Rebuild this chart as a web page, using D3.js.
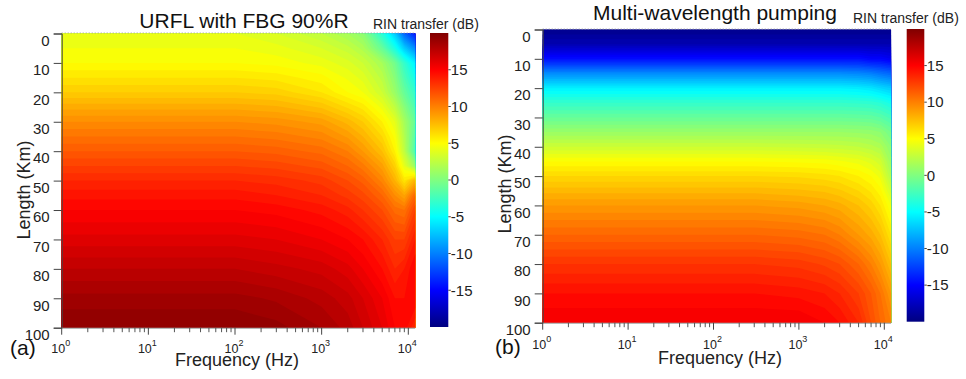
<!DOCTYPE html>
<html>
<head>
<meta charset="utf-8">
<script src="https://cdn.jsdelivr.net/npm/d3@7"></script>
<style>
  html, body { margin: 0; padding: 0; background: #fff; }
  svg { display: block; font-family: "Liberation Sans", Arial, Helvetica, sans-serif; }
</style>
</head>
<body>
<svg id="chart" width="966" height="379"></svg>
<script>
// sample grid: columns = frequency (Hz), rows = fibre length (km)
const freqsHz = [1, 100, 300, 1000, 2000, 3000, 5000, 7000, 9000, 12000];
const lengthsKm = [0, 5, 10, 15, 20, 25, 30, 35, 40, 45, 50, 55, 60, 70, 80, 90, 100];

// (a) URFL with FBG 90%R, RIN transfer in dB
const rinA = [
  [4.0, 4.0, 3.5, 2.5, 1.5, 0.5, -3.5, -7, -11, -14],
  [4.5, 4.5, 4.2, 3.5, 2.7, 1.8, -1, -4, -7, -9.5],
  [5.0, 5.0, 4.8, 4.3, 3.7, 3.0, 1.5, -0.5, -3, -5.5],
  [6.0, 6.0, 5.8, 5.2, 4.4, 3.8, 2.3, 0.3, -2, -4.2],
  [7.0, 7.0, 6.8, 6.0, 5.0, 4.5, 3.0, 1.0, -1, -3],
  [8.3, 8.3, 8.1, 7.4, 6.4, 5.8, 4.3, 2.5, 0.3, -2],
  [9.5, 9.5, 9.3, 8.8, 7.8, 7.0, 5.5, 4.0, 1.5, -1],
  [10.5, 10.5, 10.3, 9.8, 8.9, 8.0, 6.5, 4.8, 2.0, -1.5],
  [11.5, 11.5, 11.3, 10.8, 10.0, 9.0, 7.5, 5.5, 2.5, -2],
  [12.5, 12.5, 12.3, 11.8, 11.0, 10.2, 8.7, 6.8, 4.0, 1],
  [13.5, 13.5, 13.3, 12.8, 12.0, 11.3, 9.8, 8.0, 6.0, 8.0],
  [14.3, 14.3, 14.0, 13.5, 12.8, 12.2, 11.0, 9.5, 8.5, 11],
  [15.0, 15.0, 14.8, 14.3, 13.7, 13.0, 12.0, 10.8, 10.5, 12.5],
  [16.2, 16.2, 16.0, 15.5, 15.0, 14.5, 13.5, 12.5, 12.5, 14],
  [17.5, 17.5, 17.2, 16.8, 16.2, 15.5, 14.5, 13.5, 14.0, 15],
  [18.7, 18.7, 18.4, 17.8, 17.2, 16.5, 15.5, 14.5, 14.5, 15],
  [19.5, 19.5, 19.2, 18.5, 17.8, 17.0, 16.0, 15.0, 14.8, 13.5],
];

// (b) Multi-wavelength pumping
const rinB = [
  [-19.5, -19.5, -19.5, -19.5, -19.5, -19.5, -19.5, -19.5, -19.5, -19.5],
  [-18, -18, -18, -18, -18, -18, -18, -18, -18, -18],
  [-14.5, -14.5, -14.5, -14.5, -14.5, -14.5, -14.5, -15, -15, -15.5],
  [-9.5, -9.5, -9.5, -9.5, -9.5, -9.5, -9.7, -10, -10.5, -11],
  [-5.5, -5.5, -5.5, -5.5, -5.5, -5.5, -5.7, -6, -6.5, -7],
  [-3, -3, -3, -3, -3, -3, -3.1, -3.2, -3.5, -4.2],
  [-1, -1, -1, -1, -1, -1, -1.1, -1.2, -1.5, -2.2],
  [1, 1, 1, 1, 1, 1, 0.9, 0.8, 0.5, -0.5],
  [3, 3, 3, 2.9, 2.8, 2.7, 2.5, 2.2, 1.8, 0.5],
  [5, 5, 5, 4.9, 4.8, 4.6, 4.3, 3.8, 3.2, 1.2],
  [6.5, 6.5, 6.5, 6.4, 6.2, 6.0, 5.5, 5.0, 4.3, 2],
  [7.8, 7.8, 7.8, 7.6, 7.4, 7.1, 6.5, 5.9, 5.2, 3.3],
  [9, 9, 9, 8.8, 8.5, 8.2, 7.5, 6.8, 6.0, 4.5],
  [11, 11, 11, 10.8, 10.5, 10, 9, 8.3, 7.5, 6],
  [13, 13, 13, 12.8, 12.4, 12, 11, 10, 9, 7.5],
  [14.5, 14.5, 14.5, 14.3, 14, 13.5, 12.5, 11.5, 10.5, 9],
  [15.5, 15.5, 15.5, 15.5, 15, 14.5, 13.5, 12, 11, 10],
];

const lengthTicks = [0, 10, 20, 30, 40, 50, 60, 70, 80, 90, 100];
const freqTickExps = [0, 1, 2, 3, 4];
const cbarTicks = [-15, -10, -5, 0, 5, 10, 15];
const cbarRange = [-20, 20];

const panels = [
  {
    values: rinA, title: 'URFL with FBG 90%R', tag: '(a)',
    x0: 61.7, x4: 408.3, top: 33.5, bottom: 327.7,
    cbar: { x: 430, w: 18.3, top: 33, bottom: 327 },
    titlePos: [244, 28], cbarLabelPos: [373, 29], yLabelPos: [30, 190],
    xLabelPos: [237, 366], tagPos: [10, 355], xTickBase: 353,
  },
  {
    values: rinB, title: 'Multi-wavelength pumping', tag: '(b)',
    x0: 542.7, x4: 884.3, top: 29.5, bottom: 322.7,
    cbar: { x: 906.7, w: 17.6, top: 29, bottom: 321.7 },
    titlePos: [715, 20], cbarLabelPos: [853, 23], yLabelPos: [511, 184],
    xLabelPos: [720, 364], tagPos: [495, 354], xTickBase: 349,
  },
];

// MATLAB jet colormap
function jet(t) {
  t = Math.max(0, Math.min(1, t));
  const c = (v) => Math.round(255 * Math.max(0, Math.min(1, v)));
  return d3.rgb(c(1.5 - Math.abs(4 * t - 3)), c(1.5 - Math.abs(4 * t - 2)), c(1.5 - Math.abs(4 * t - 1))).formatHex();
}
const toUnit = d3.scaleLinear().domain(cbarRange).range([0, 1]);

const svg = d3.select('#chart');
const defs = svg.append('defs');
const grad = defs.append('linearGradient').attr('id', 'jetGrad')
  .attr('x1', 0).attr('y1', 1).attr('x2', 0).attr('y2', 0);
grad.selectAll('stop').data(d3.range(0, 1.0001, 1 / 32)).join('stop')
  .attr('offset', (d) => d)
  .attr('stop-color', (d) => jet(d));

const step = 0.5;
const thresholds = d3.range(cbarRange[0], cbarRange[1], step);
const maxFreq = freqsHz[freqsHz.length - 1];

panels.forEach((p) => {
  const g = svg.append('g');

  const x = d3.scaleLog().domain([1, 1e4]).range([p.x0, p.x4]);
  const y = d3.scaleLinear().domain([0, 100]).range([p.top, p.bottom]);
  const right = x(maxFreq);

  // filled contour bands
  const n = freqsHz.length, m = lengthsKm.length;
  const bands = d3.contours().size([n, m]).thresholds(thresholds)(p.values.flat());
  const gx = d3.scaleLinear().domain(freqsHz.map((d, i) => i + 0.5)).range(freqsHz.map((f) => x(f))).clamp(true);
  const gy = d3.scaleLinear().domain(lengthsKm.map((d, i) => i + 0.5)).range(lengthsKm.map((L) => y(L))).clamp(true);
  const path = d3.geoPath(d3.geoTransform({
    point(px, py) { this.stream.point(gx(px), gy(py)); },
  }));

  g.append('g').selectAll('path').data(bands).join('path')
    .attr('d', path)
    .attr('fill', (d) => jet(toUnit(d.value + step / 2)));

  // top dotted border
  g.append('line')
    .attr('x1', p.x0).attr('x2', right).attr('y1', p.top - 0.5).attr('y2', p.top - 0.5)
    .attr('stroke', '#9a9a9a').attr('stroke-width', 1).attr('stroke-dasharray', '1,2');

  // y axis
  const yAxis = g.append('g')
    .attr('transform', `translate(${p.x0},0)`)
    .call(d3.axisLeft(y).tickValues(lengthTicks).tickSize(8).tickPadding(4));
  yAxis.select('.domain').attr('stroke', '#444');
  yAxis.selectAll('.tick line').attr('stroke', '#444');
  yAxis.selectAll('.tick text')
    .attr('font-size', 15).attr('fill', '#222')
    .attr('font-family', '"Liberation Sans", Arial, sans-serif')
    .attr('transform', 'translate(0,7)');

  // x axis (log, with minor ticks)
  const minor = [];
  freqTickExps.forEach((e) => {
    for (let k = 2; k <= 9; k++) {
      const f = k * Math.pow(10, e);
      if (f <= maxFreq) minor.push(f);
    }
  });
  const xg = g.append('g');
  xg.append('line')
    .attr('x1', p.x0).attr('x2', right).attr('y1', p.bottom + 0.5).attr('y2', p.bottom + 0.5)
    .attr('stroke', '#999');
  xg.selectAll('line.minor').data(minor).join('line').attr('class', 'minor')
    .attr('x1', (d) => x(d)).attr('x2', (d) => x(d))
    .attr('y1', p.bottom).attr('y2', p.bottom + 4.5)
    .attr('stroke', '#555');
  xg.selectAll('line.major').data(freqTickExps).join('line').attr('class', 'major')
    .attr('x1', (d) => x(Math.pow(10, d))).attr('x2', (d) => x(Math.pow(10, d)))
    .attr('y1', p.bottom).attr('y2', p.bottom + 7)
    .attr('stroke', '#444');
  const xt = xg.selectAll('text.xtick').data(freqTickExps).join('text').attr('class', 'xtick')
    .attr('x', (d) => x(Math.pow(10, d)) - 1)
    .attr('y', p.xTickBase)
    .attr('text-anchor', 'middle')
    .attr('font-size', 12.5).attr('fill', '#222');
  xt.append('tspan').text('10');
  xt.append('tspan').attr('dy', -7).attr('font-size', 9).text((d) => d);

  // colour bar
  const cb = p.cbar;
  const cy = d3.scaleLinear().domain(cbarRange).range([cb.bottom, cb.top]);
  g.append('rect')
    .attr('x', cb.x).attr('y', cb.top).attr('width', cb.w).attr('height', cb.bottom - cb.top)
    .attr('fill', 'url(#jetGrad)');
  g.selectAll('line.cbt').data(cbarTicks).join('line').attr('class', 'cbt')
    .attr('x1', cb.x + cb.w).attr('x2', cb.x + cb.w + 2.5)
    .attr('y1', (d) => cy(d)).attr('y2', (d) => cy(d))
    .attr('stroke', '#444');
  g.selectAll('text.cbl').data(cbarTicks).join('text').attr('class', 'cbl')
    .attr('x', cb.x + cb.w + 2.5)
    .attr('y', (d) => cy(d))
    .attr('dy', '0.35em')
    .attr('font-size', 15).attr('fill', '#222')
    .text((d) => (d < 0 ? '-' + Math.abs(d) : d));

  // texts
  g.append('text').attr('x', p.titlePos[0]).attr('y', p.titlePos[1])
    .attr('text-anchor', 'middle').attr('font-size', 21).attr('fill', '#111')
    .text(p.title);
  g.append('text').attr('x', p.cbarLabelPos[0]).attr('y', p.cbarLabelPos[1])
    .attr('font-size', 14).attr('fill', '#222')
    .text('RIN transfer (dB)');
  g.append('text')
    .attr('transform', `translate(${p.yLabelPos[0]},${p.yLabelPos[1]}) rotate(-90)`)
    .attr('text-anchor', 'middle').attr('font-size', 18).attr('fill', '#222')
    .text('Length (Km)');
  g.append('text').attr('x', p.xLabelPos[0]).attr('y', p.xLabelPos[1])
    .attr('text-anchor', 'middle').attr('font-size', 18).attr('fill', '#222')
    .text('Frequency (Hz)');
  g.append('text').attr('x', p.tagPos[0]).attr('y', p.tagPos[1])
    .attr('font-size', 21).attr('fill', '#111')
    .text(p.tag);
});
</script>
</body>
</html>
